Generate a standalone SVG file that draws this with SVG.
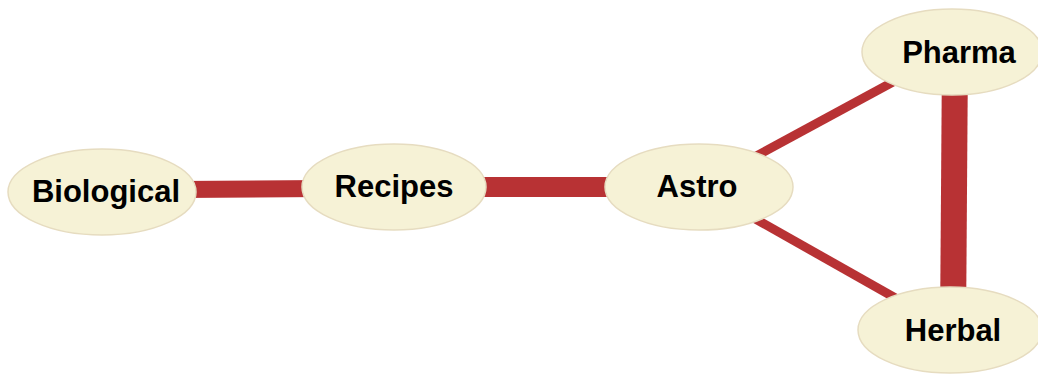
<svg xmlns="http://www.w3.org/2000/svg" width="1038" height="375" viewBox="0 0 1038 375">
<style>
.edge{stroke:#b83234;stroke-linecap:butt;fill:none}
.node ellipse{fill:#f6f2d6;stroke:#e6dcc0;stroke-width:1.5}
.node text{font-family:"Liberation Sans",Arial,sans-serif;font-weight:bold;font-size:31px;fill:#000;text-anchor:middle;dominant-baseline:central}
</style>
<rect width="1038" height="375" fill="#ffffff"/>
<g id="connectors">
<line class="edge" x1="102" y1="190" x2="394" y2="188" stroke-width="17"/>
<line class="edge" x1="394" y1="187" x2="699" y2="187" stroke-width="20"/>
<line class="edge" x1="699" y1="187" x2="952" y2="50" stroke-width="9"/>
<line class="edge" x1="699" y1="187" x2="952" y2="330" stroke-width="9"/>
<line class="edge" x1="955" y1="52" x2="953" y2="330" stroke-width="26"/>
</g>
<g id="node-biological" class="node">
<ellipse cx="102" cy="192" rx="94" ry="43"/>
<text x="106" y="191">Biological</text>
</g>
<g id="node-recipes" class="node">
<ellipse cx="394" cy="187" rx="92" ry="43"/>
<text x="394" y="186">Recipes</text>
</g>
<g id="node-astro" class="node">
<ellipse cx="699" cy="187" rx="94" ry="43"/>
<text x="697" y="186">Astro</text>
</g>
<g id="node-pharma" class="node">
<ellipse cx="952" cy="52" rx="90" ry="43"/>
<text x="959" y="52">Pharma</text>
</g>
<g id="node-herbal" class="node">
<ellipse cx="950" cy="330" rx="92" ry="43"/>
<text x="953" y="330">Herbal</text>
</g>
</svg>
